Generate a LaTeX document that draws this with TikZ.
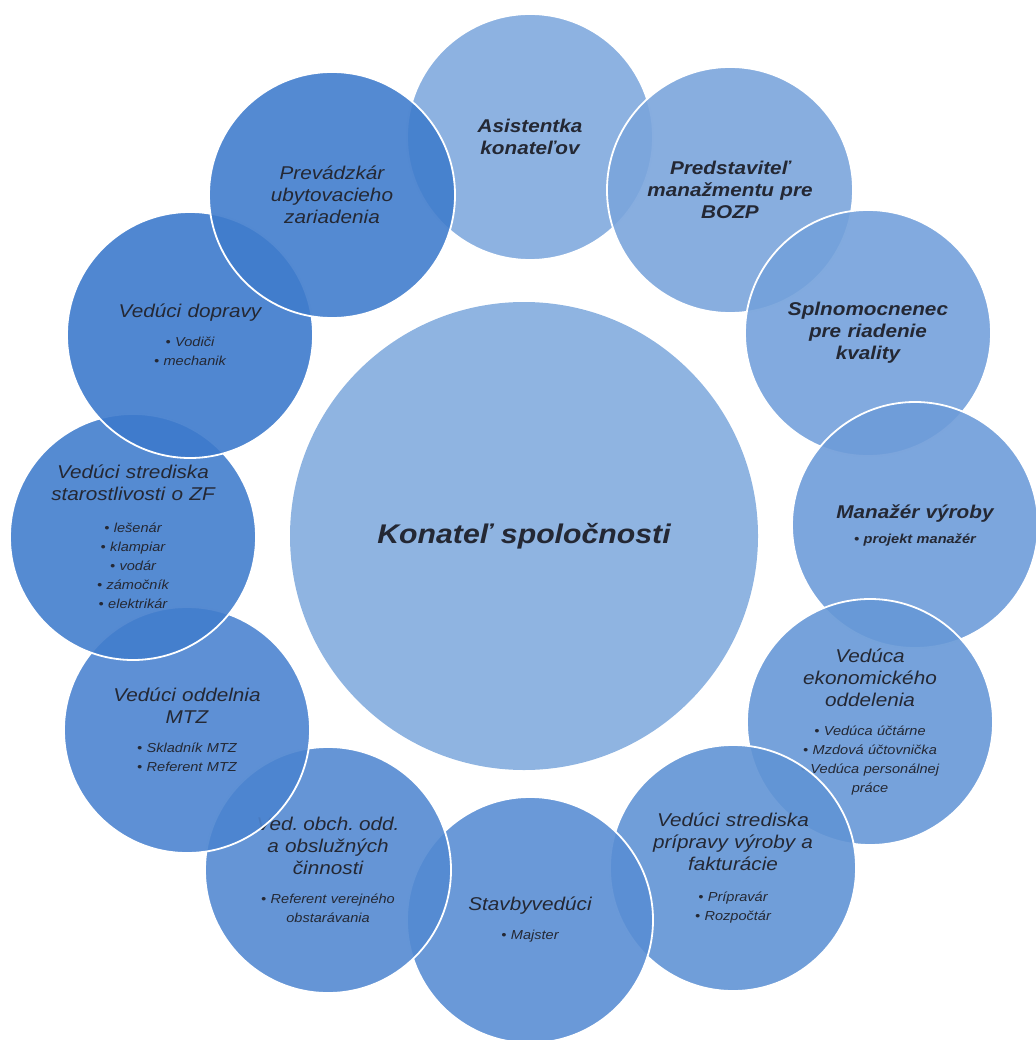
\documentclass[tikz,border=0pt]{standalone}
\usepackage{fontspec}
\setmainfont{Liberation Sans}[FakeStretch=1.12]
\definecolor{txt}{RGB}{36,40,52}
\definecolor{cLt}{RGB}{129,170,222}
\definecolor{cDk}{RGB}{58,120,203}
\definecolor{mid}{RGB}{143,180,225}
\colorlet{f1}{cLt}
\colorlet{f2}{cDk!9!cLt}
\colorlet{f3}{cDk!18!cLt}
\colorlet{f4}{cDk!27!cLt}
\colorlet{f5}{cDk!36!cLt}
\colorlet{f6}{cDk!45!cLt}
\colorlet{f7}{cDk!55!cLt}
\colorlet{f8}{cDk!64!cLt}
\colorlet{f9}{cDk!75!cLt}
\colorlet{f10}{cDk!88!cLt}
\colorlet{f11}{cDk!96!cLt}
\colorlet{f12}{cDk!90!cLt}
\newcommand{\mytitle}{\fontsize{18.5}{22}\selectfont\spaceskip=0.34em\relax}
\newcommand{\myitem}{\fontsize{13}{19}\selectfont\spaceskip=0.34em\relax}
\newcommand{\myhub}{\fontsize{27}{32}\selectfont\spaceskip=0.34em\relax}
\begin{document}
\begin{tikzpicture}[x=1pt,y=-1pt,
  ring/.style={circle, draw=white, line width=1.8pt, fill opacity=0.9, text opacity=1,
    minimum size=246pt, inner sep=0pt, text width=170pt, align=center, text=txt, font=\itshape},
  ringb/.style={ring, font=\bfseries\itshape},
  hub/.style={circle, fill=mid, minimum size=468pt, inner sep=0pt, align=center, text=txt,
    font=\bfseries\itshape}]
\useasboundingbox (0,0) rectangle (1035,1040);
\node[hub] (hub) at (524,536) {\myhub Konateľ spoločnosti};
\node[ringb, fill=f1] (c1) at (530,137) {{\mytitle Asistentka\\konateľov\par}};
\node[ringb, fill=f2] (c2) at (730,190) {{\mytitle Predstaviteľ\\manažmentu pre\\BOZP\par}};
\node[ringb, fill=f3] (c3) at (868,333) {{\mytitle Splnomocnenec\\pre riadenie\\kvality\par}};
\node[ringb, fill=f4] (c4) at (915,525) {{\mytitle Manažér výroby\par}\vspace{6pt}{\myitem • projekt manažér\par}};
\node[ring, fill=f5] (c5) at (870,722) {{\mytitle Vedúca\\ekonomického\\oddelenia\par}\vspace{10pt}{\myitem • Vedúca účtárne\\• Mzdová účtovnička\\• Vedúca personálnej\\práce\par}};
\node[ring, fill=f6] (c6) at (733,868) {{\mytitle Vedúci strediska\\prípravy výroby a\\fakturácie\par}\vspace{12pt}{\myitem • Prípravár\\• Rozpočtár\par}};
\node[ring, fill=f7] (c7) at (530,920) {{\mytitle Stavbyvedúci\par}\vspace{10pt}{\myitem • Majster\par}};
\node[ring, fill=f8] (c8) at (328,870) {{\mytitle Ved. obch. odd.\\a obslužných\\činnosti\par}\vspace{10pt}{\myitem • Referent verejného\\obstarávania\par}};
\node[ring, fill=f9] (c9) at (187,730) {{\mytitle Vedúci oddelnia\\MTZ\par}\vspace{10pt}{\myitem • Skladník MTZ\\• Referent MTZ\par}};
\node[ring, fill=f10] (c10) at (133,537) {{\mytitle Vedúci strediska\\starostlivosti o ZF\par}\vspace{13pt}{\myitem • lešenár\\• klampiar\\• vodár\\• zámočník\\• elektrikár\par}};
\node[ring, fill=f11] (c11) at (190,335) {{\mytitle Vedúci dopravy\par}\vspace{10pt}{\myitem • Vodiči\\• mechanik\par}};
\node[ring, fill=f12] (c12) at (332,195) {{\mytitle Prevádzkár\\ubytovacieho\\zariadenia\par}};
\end{tikzpicture}
\end{document}
